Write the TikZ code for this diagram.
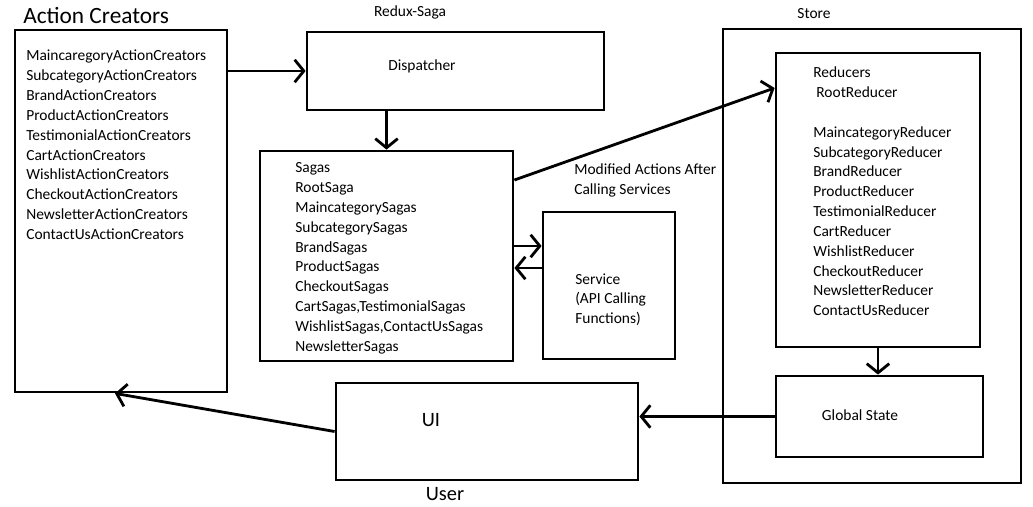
\documentclass[tikz,border=0pt]{standalone}
\usepackage{fontspec}
\setmainfont{Carlito}
\usepackage{xcolor}
\usetikzlibrary{arrows.meta}
\tikzset{
    RA1/.style ={rectangle, draw=black, line width=2pt, inner sep=0pt},
    TX1/.style ={anchor=north west, align=left, inner sep=0pt, font=\fontsize{11}{14.1}\selectfont},
    TX2/.style ={inner sep=0pt, font=\fontsize{11}{14.1}\selectfont},
    TX3/.style ={inner sep=0pt, font=\fontsize{14.5}{17}\selectfont},
    AR1/.style ={line width=2pt, -{Straight Barb[length=6.5pt,width=16pt]}}
}

\begin{document}
\begin{tikzpicture}
        \useasboundingbox (0,0) rectangle (25.825,-12.675);
        \node[RA1, minimum width=5.3cm, minimum height=9.05cm] (AC) at (3.025,-5.275) {};
        \node[RA1, minimum width=7.425cm, minimum height=1.95cm] (DP) at (11.3875,-1.775) {};
        \node[RA1, minimum width=6.325cm, minimum height=5.25cm] (SG) at (9.6625,-6.4) {};
        \node[RA1, minimum width=3.3cm, minimum height=3.675cm] (SV) at (15.225,-7.1375) {};
        \node[RA1, minimum width=7.45cm, minimum height=11.35cm] (ST) at (21.8,-6.4) {};
        \node[RA1, minimum width=5.1cm, minimum height=7.35cm] (RD) at (21.95,-5.0) {};
        \node[RA1, minimum width=5.175cm, minimum height=2.025cm] (GS) at (21.9875,-10.4125) {};
        \node[RA1, minimum width=7.55cm, minimum height=2.425cm] (UI) at (12.175,-10.7875) {};
        \node[TX2, anchor=west, font=\fontsize{16.6}{20}\selectfont] (ACtitle) at (0.575,-0.39) {Action Creators};
        \node[TX2] (SGtitle) at (10.25,-0.3) {Redux-Saga};
        \node[TX2] (STtitle) at (20.35,-0.35) {Store};
        \node[TX2] (DPtext) at (10.55,-1.65) {Dispatcher};
        \node[TX2] (GStext) at (21.5,-10.375) {Global State};
        \node[TX3] (UItext) at (10.775,-10.5) {UI};
        \node[TX3] (UItitle) at (11.125,-12.35) {User};
        \node[TX1] (AClist) at (0.65,-1.25) {MaincaregoryActionCreators\\SubcategoryActionCreators\\BrandActionCreators\\ProductActionCreators\\TestimonialActionCreators\\CartActionCreators\\WishlistActionCreators\\CheckoutActionCreators\\NewsletterActionCreators\\ContactUsActionCreators};
        \node[TX1] (SGlist) at (7.375,-4.06) {Sagas\\RootSaga\\MaincategorySagas\\SubcategorySagas\\BrandSagas\\ProductSagas\\CheckoutSagas\\CartSagas,TestimonialSagas\\WishlistSagas,ContactUsSagas\\NewsletterSagas};
        \node[TX1] (RDlist) at (20.325,-1.67) {Reducers\\\hspace{0.2em}RootReducer\\[14.1pt]MaincategoryReducer\\SubcategoryReducer\\BrandReducer\\ProductReducer\\TestimonialReducer\\CartReducer\\WishlistReducer\\CheckoutReducer\\NewsletterReducer\\ContactUsReducer};
        \node[TX1] (MDtext) at (14.35,-4.08) {Modified Actions After\\Calling Services};
        \node[TX1] (SVtext) at (14.375,-6.83) {Service\\(API Calling\\Functions)};
        \draw[AR1] (AC.east |- DP.west) -- (DP.west);
        \draw[AR1] (SG.north |- DP.south) -- (SG.north);
        \draw[AR1] ([yshift=0.25cm]SG.east) -- ([yshift=0.25cm]SG.east -| SV.west);
        \draw[AR1] ([yshift=-0.3cm]SG.east -| SV.west) -- ([yshift=-0.3cm]SG.east);
        \draw[AR1] ([yshift=1.9cm]SG.east) -- ([yshift=2.8cm]RD.west);
        \draw[AR1] (RD.south) -- (RD.south |- GS.north);
        \draw[AR1] (GS.west) -- (GS.west -| UI.east);
        \draw[AR1] (UI.west) -- ([xshift=-0.15cm]AC.south);
    \end{tikzpicture}
\end{document}
